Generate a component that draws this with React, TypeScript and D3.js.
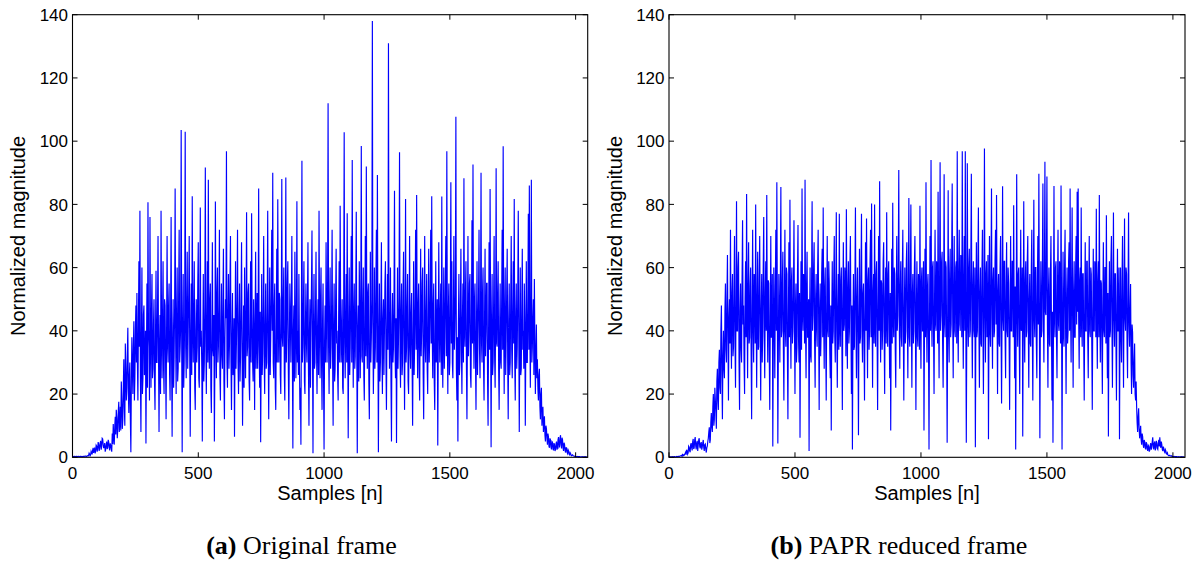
import React from 'react';
import * as d3 from 'd3';

// ---------- data ----------
const SAMPLE_STEP = 2; // every 2nd sample of the 2048-sample frame
const X_MAX = 2048;
const Y_MAX = 140;
const xTicks = [0, 500, 1000, 1500, 2000];
const yTicks = [0, 20, 40, 60, 80, 100, 120, 140];
const xLabel = 'Samples [n]';
const yLabel = 'Normalized magnitude';
const captionTags = ['(a)', '(b)'];
const captionTexts = ['Original frame', 'PAPR reduced frame'];

const originalFrame = [
  0.3,0.2,0.2,0.3,0.3,0.2,0.2,0.3,0.3,0.2,0.2,0.3,0.3,0.2,0.2,0.3,0.3,0.2,0.3,0.2,0.2,0.3,0.3,0.2,0.3,0.4,0.4,0.3,0.3,0.4,0.5,0.4,
  0.6,1.3,1.0,0.5,0.8,1.9,1.5,0.9,2.2,3.0,1.4,2.5,2.8,1.2,2.0,3.8,3.5,1.8,2.6,4.8,4.2,2.0,3.0,4.5,5.2,2.4,3.4,6.0,5.8,4.0,2.9,3.6,
  4.5,1.8,2.5,4.0,5.0,2.6,3.2,5.5,4.8,3.0,2.2,4.4,3.8,2.8,1.8,7.5,4.2,10.5,6.5,4.0,9.8,12.8,7.2,15.0,12.5,6.0,9.0,14.5,17.6,8.0,11.0,16.0,
  8.5,24,18,9,12,22,31,16,10,36,28,18,22,33,41,20,14,26,30,12,1.6,24,38,28,20,35,43,18,25,40,48,30,
  52,30,18,42,62,35,78,25,8,38,60,20,25,45,48,26,30,40,4.4,32,55,22,80.7,40,35,18,76,38,22,46,58,25,
  28,42,50,24,15,38,59,30,30,46,70,32,8,36,45,20,78,40,25,44,62,28,20,50,48,30,12,40,70,35,30,48,
  55,26,18,44,76,30,6.5,36,50,22,32,48,85,38,20,45,60,24,28,52,72,30,35,42,103.5,38,1.6,40,58,22,30,46,
  103,35,25,48,65,28,40,52,70,32,6.5,38,55,26,82.6,42,30,46,62,22,15,40,50,30,35,55,68,25,22,44,79,35,
  40,28,5,36,58,24,30,48,91.7,35,20,42,62,30,87.8,38,28,50,55,22,14,38,68,34,32,45,5,30,80.9,40,25,52,
  60,30,35,48,72,26,18,40,55,32,28,50,66,24,12,38,50,44,96.8,30,22,46,58,28,36,55,70,30,15,38,52,26,
  30,44,6.5,35,62,28,38,50,72,30,20,42,55,24,32,48,68,36,10,30,48,22,60,40,25,46,77.5,32,35,52,55,24,
  18,40,62,30,77.2,45,30,24,50,38,15,44,65,28,38,52,28,42,85,35,22,46,4.8,32,58,26,33,48,70,30,20,42,
  55,28,30,46,78,35,12,40,60,26,38,52,72,40,90,30,25,48,55,22,15,38,66,30,81.6,44,30,52,50,26,20,44,
  88,38,35,50,60,26,18,42,88.5,30,40,55,62,28,12,36,55,44,30,48,70,32,2.8,40,48,24,65,46,25,38,81,30,
  40,26,58,32,15,22,4,45,93.8,30,35,48,62,24,20,42,55,36,30,50,68,28,10,40,50,22,40,55,71.7,34,1.3,42,
  58,28,30,46,65,35,20,40,50,26,78,44,25,50,60,30,15,42,55,24,2.5,36,48,30,68,46,30,52,112,35,20,45,
  60,28,35,48,72,30,10,42,55,24,28,50,66,36,40,26,18,44,62,30,79.6,45,30,38,50,22,20,48,102.8,36,25,44,
  58,30,77.2,40,6,38,60,26,35,50,70,30,94,42,22,46,55,28,32,52,77.7,36,1.3,40,48,24,62,44,25,50,98.5,32,
  30,48,60,26,18,44,70,32,92,40,28,52,55,24,12,38,65,30,38,50,138,42,20,35,60,28,35,55,72,30,89.3,40,
  1.6,36,55,24,30,48,68,32,20,44,50,26,40,55,62,30,15,40,58,34,131,46,28,38,60,24,5,42,52,30,35,50,
  84.3,34,25,44,4.5,36,60,28,38,50,96.5,32,22,46,55,26,30,52,65,36,15,40,81.7,30,35,48,58,24,20,42,70,34,
  28,46,52,30,10,38,62,26,35,50,72,34,83,42,25,48,55,28,18,44,66,32,40,55,60,26,12,40,70,36,30,46,
  58,28,20,44,66,30,38,52,72,36,82.6,40,25,48,55,24,15,38,62,30,35,50,3.7,34,68,42,30,46,55,26,82.5,36,
  22,42,60,28,38,54,70,32,96.8,40,20,46,55,26,30,50,87,36,62,30,25,44,70,34,40,52,107.7,28,18,38,5,42,
  58,26,30,48,66,34,20,44,55,30,88.3,40,35,52,62,28,12,40,70,32,40,55,58,26,22,46,75,36,92.6,42,28,50,
  55,30,15,42,62,26,38,50,72,34,25,46,90,36,30,52,60,28,18,44,66,32,40,55,55,24,10,40,68,34,84.9,44,
  3.2,40,58,26,30,48,70,32,22,44,91.4,36,35,52,62,28,15,40,55,30,28,50,72,34,98.4,42,20,46,60,26,38,52,
  66,30,12,42,55,26,30,50,70,34,25,46,62,36,81.7,30,18,44,55,28,35,52,78,40,8,36,60,26,28,48,66,34,
  40,28,55,42,10,36,62,30,30,48,77,34,86,40,22,46,87.8,30,35,44,50,26,56.4,36,20,32,42,25,31,22,18,26,
  28,16,12,20,22,10,13.7,16,8,11,13,7,5,10,9,6,4,7.5,6.5,3.5,3,6,5.5,3.2,2.5,5.0,4.8,2.6,2.2,4.5,4,2.0,
  2.5,4.2,5,2.4,3,5.5,6.4,3.2,3.5,6.0,7,4.0,2.8,6.2,5.5,3.0,2,4.6,4,2.2,1.5,3.2,2.8,1.6,1.2,2.4,2,1.0,0.8,1.5,1.2,0.6,
  0.5,0.7,0.8,0.5,0.4,0.4,0.3,0.3,0.3,0.2,0.2,0.3,0.2,0.2,0.1,0.2,0.2,0.1,0.1,0.2,0.1,0.1,0.2,0.1,0.1,0.2,0.1,0.1,0.2,0.1,0.1,0.1,
];

const paprReducedFrame = [
  0.1,0.2,0.1,0.1,0.2,0.1,0.1,0.2,0.1,0.1,0.2,0.2,0.1,0.1,0.2,0.3,0.2,0.2,0.3,0.3,0.2,0.3,0.4,0.5,0.5,0.6,0.3,0.9,0.8,0.5,0.6,1.0,
  1.2,1.6,0.8,2.4,2.0,1.0,1.4,3.5,3.2,2.0,1.6,4.0,4.5,3.0,2.2,5.0,5.8,2.6,3.0,5.5,6.4,3.6,2.5,4.6,5.2,2.0,3.8,5.6,6.0,3.4,2.8,4.4,
  4.8,2.4,3.2,4.6,5.5,3.0,2.0,4.0,4.2,2.6,1.5,3.0,3.5,5.0,6.0,8.0,9.5,4.5,5.5,11,14,9.5,8.0,16,20,10,12,22,18,14,9,24,
  28,18,15,30,34,22,20,40,48,26,12,32,40,28,25,46,55,34,30,50,64,38,18,44,50,36,72,40,28,52,58,32,
  35,52,70,36,22,48,81,40,40,60,65,30,15,46,55,34,30,56,75,42,48,30,20,50,62,38,83.3,45,25,54,68,36,
  38,54,60,32,12,48,72,40,30,58,55,36,80,44,22,50,65,34,35,56,70,40,18,46,58,30,40,60,76,38,25,52,
  62,40,83,46,30,56,55,32,15,44,70,38,38,58,3.4,36,60,42,25,54,72,40,87,48,4.4,34,58,44,30,56,85.5,38,
  40,56,65,34,18,48,72,40,35,60,58,32,12,46,68,38,81.5,44,28,56,60,36,40,52,75,42,20,48,55,30,35,58,
  73.5,38,30,52,6.2,40,62,34,85,46,40,58,55,36,87.8,42,25,54,65,38,38,50,2,44,60,32,30,56,81,40,45,60,
  68,36,22,50,58,40,35,60,72,42,15,46,55,32,40,58,66,38,79,44,28,54,60,36,18,48,70,40,38,62,55,34,
  25,48,8.5,44,62,36,40,58,70,38,30,52,77.5,40,22,46,58,34,77,42,35,56,60,38,15,50,68,40,42,60,55,32,
  78.5,42,28,54,62,36,40,60,70,44,20,48,2.5,40,58,34,35,56,79,42,25,50,60,38,7,44,66,36,38,58,77,40,
  30,52,55,36,18,46,68,40,75.5,44,25,56,60,34,40,62,72,38,80.3,46,22,52,58,36,80,42,35,58,62,38,15,48,
  70,40,87.3,46,30,56,55,34,40,62,68,38,20,50,60,36,77.5,44,35,58,62,40,25,52,8.5,42,66,36,80.5,44,38,60,
  58,34,22,50,70,40,45,60,90.9,42,28,54,62,38,35,58,72,40,18,46,60,36,40,62,68,44,25,52,82,38,35,56,
  80,44,22,52,58,36,40,60,70,42,15,48,62,38,35,58,55,34,79.6,44,28,56,60,40,40,62,8.5,40,66,38,87,46,
  30,54,58,36,2.5,44,70,40,94,46,35,60,62,38,20,50,72,42,40,62,60,36,84,44,25,56,93.3,40,45,62,65,36,
  22,50,89.5,42,38,62,60,36,4.6,44,84.5,40,30,58,66,38,42,64,86.6,44,25,54,70,40,38,60,62,36,96.8,46,30,58,
  72,42,40,64,60,38,96.8,48,28,56,70,40,96.8,46,4.6,42,93,44,35,60,66,38,40,62,89.7,44,25,54,62,40,38,60,
  3.2,44,68,38,40,62,79,42,22,52,60,36,35,58,72,40,20,50,97.7,46,30,58,62,38,40,64,5.7,42,70,40,35,58,
  85,44,28,56,60,38,40,62,72,42,83,46,20,52,58,36,35,60,70,40,17,48,85.7,44,40,62,62,38,25,54,68,40,
  38,60,55,36,15,48,70,40,40,62,62,38,79.7,44,25,54,2.5,42,89.5,46,35,58,60,38,20,52,72,40,42,60,6.6,44,
  81,42,30,56,62,38,40,62,70,42,22,50,58,36,35,60,72,40,18,48,81.5,44,38,60,60,36,25,54,70,42,89.7,46,
  6,44,62,38,40,62,86.6,44,30,56,93.5,46,45,62,88.8,42,22,52,60,36,35,58,70,40,18,46,4.6,42,85.8,44,38,60,
  62,38,25,54,72,42,40,62,58,36,86,46,2.5,44,65,38,35,60,72,42,20,50,60,36,40,62,68,40,85,46,30,56,
  79,44,22,52,62,38,38,60,70,42,84,46,85,44,28,56,60,38,79,44,35,58,58,36,18,48,68,40,40,62,62,38,
  25,52,70,40,38,60,58,36,15,46,66,40,40,62,60,38,78.6,44,28,56,62,38,83,46,30,56,55,36,20,50,68,40,
  38,60,60,36,76.6,44,25,52,6.6,42,62,38,40,62,70,42,22,50,77.4,44,35,58,58,36,18,48,66,40,40,60,5.7,42,
  60,38,30,56,70,40,22,50,75.5,44,40,60,58,36,25,52,77.4,42,35,46,54.8,30,20,42,39.5,26,22,30,36,20,18,24,
  16,11,8,13,15.5,9,6,8,10,5.5,4,7.5,6.5,4.0,3,5.5,5,3.0,2.5,4.8,4.2,2.6,2,3.8,3.5,1.8,2.2,3.6,4.5,2.4,3,5.0,
  6.3,3.6,2.5,4.4,5,2.2,3,5.2,4.5,2.8,2.5,4.6,5.5,3.4,6.3,4.0,3,5.0,4,2.4,2,3.4,2.8,1.8,1.5,2.4,2,1.2,1,1.4,0.8,0.6,
  0.5,0.6,0.6,0.4,0.4,0.5,0.3,0.3,0.3,0.2,0.2,0.3,0.2,0.2,0.1,0.2,0.2,0.1,0.1,0.2,0.1,0.1,0.2,0.1,0.1,0.2,0.1,0.1,0.2,0.1,0.1,0.1,
];

const seriesList = [originalFrame, paprReducedFrame];

// ---------- layout ----------
const W = 1199;
const H = 563;
const TOP = 14.7;
const BOTTOM = 457.3;
const layouts = [
  { left: 72.5, right: 587.7, yLabelX: 25, captionX: 301.5 },
  { left: 669, right: 1185, yLabelX: 622, captionX: 899 },
];
const SANS = '"Liberation Sans", Arial, Helvetica, sans-serif';
const SERIF = '"Liberation Serif", "Times New Roman", Times, serif';
const TICK = 5;

function Panel({ values, layout, idx }: { values: number[]; layout: any; idx: number }) {
  const x = d3.scaleLinear().domain([0, X_MAX]).range([layout.left, layout.right]);
  const y = d3.scaleLinear().domain([0, Y_MAX]).range([BOTTOM, TOP]);
  const line = d3
    .line<number>()
    .x((_, i) => x(i * SAMPLE_STEP))
    .y((d) => y(d));
  const midY = (TOP + BOTTOM) / 2;
  const midX = (layout.left + layout.right) / 2;
  return (
    <g>
      <path d={line(values) || ''} fill="none" stroke="#0000ff" strokeWidth={1.15} />
      <rect
        x={layout.left}
        y={TOP}
        width={layout.right - layout.left}
        height={BOTTOM - TOP}
        fill="none"
        stroke="#000"
        strokeWidth={1.1}
      />
      {xTicks.map((t) => (
        <g key={'x' + t}>
          <line x1={x(t)} x2={x(t)} y1={BOTTOM} y2={BOTTOM - TICK} stroke="#000" strokeWidth={1} />
          <line x1={x(t)} x2={x(t)} y1={TOP} y2={TOP + TICK} stroke="#000" strokeWidth={1} />
          <text x={x(t)} y={479} textAnchor="middle" fontFamily={SANS} fontSize={17} fill="#000">
            {t}
          </text>
        </g>
      ))}
      {yTicks.map((t) => (
        <g key={'y' + t}>
          <line x1={layout.left} x2={layout.left + TICK} y1={y(t)} y2={y(t)} stroke="#000" strokeWidth={1} />
          <line x1={layout.right} x2={layout.right - TICK} y1={y(t)} y2={y(t)} stroke="#000" strokeWidth={1} />
          <text
            x={layout.left - 4.5}
            y={y(t)}
            dy="0.36em"
            textAnchor="end"
            fontFamily={SANS}
            fontSize={17}
            fill="#000"
          >
            {t}
          </text>
        </g>
      ))}
      <text x={midX} y={500} textAnchor="middle" fontFamily={SANS} fontSize={20} fill="#000">
        {xLabel}
      </text>
      <text
        transform={`translate(${layout.yLabelX},${midY}) rotate(-90)`}
        textAnchor="middle"
        fontFamily={SANS}
        fontSize={20}
        fill="#000"
      >
        {yLabel}
      </text>
      <text x={layout.captionX} y={554} textAnchor="middle" fontFamily={SERIF} fontSize={26} fill="#000">
        <tspan fontWeight="bold">{captionTags[idx]}</tspan>
        <tspan> {captionTexts[idx]}</tspan>
      </text>
    </g>
  );
}

export default function App() {
  return (
    <svg
      width={W}
      height={H}
      viewBox={`0 0 ${W} ${H}`}
      style={{ position: 'absolute', left: 0, top: 0, background: '#fff' }}
    >
      <rect x={0} y={0} width={W} height={H} fill="#fff" />
      {seriesList.map((values, i) => (
        <Panel key={i} values={values} layout={layouts[i]} idx={i} />
      ))}
    </svg>
  );
}
